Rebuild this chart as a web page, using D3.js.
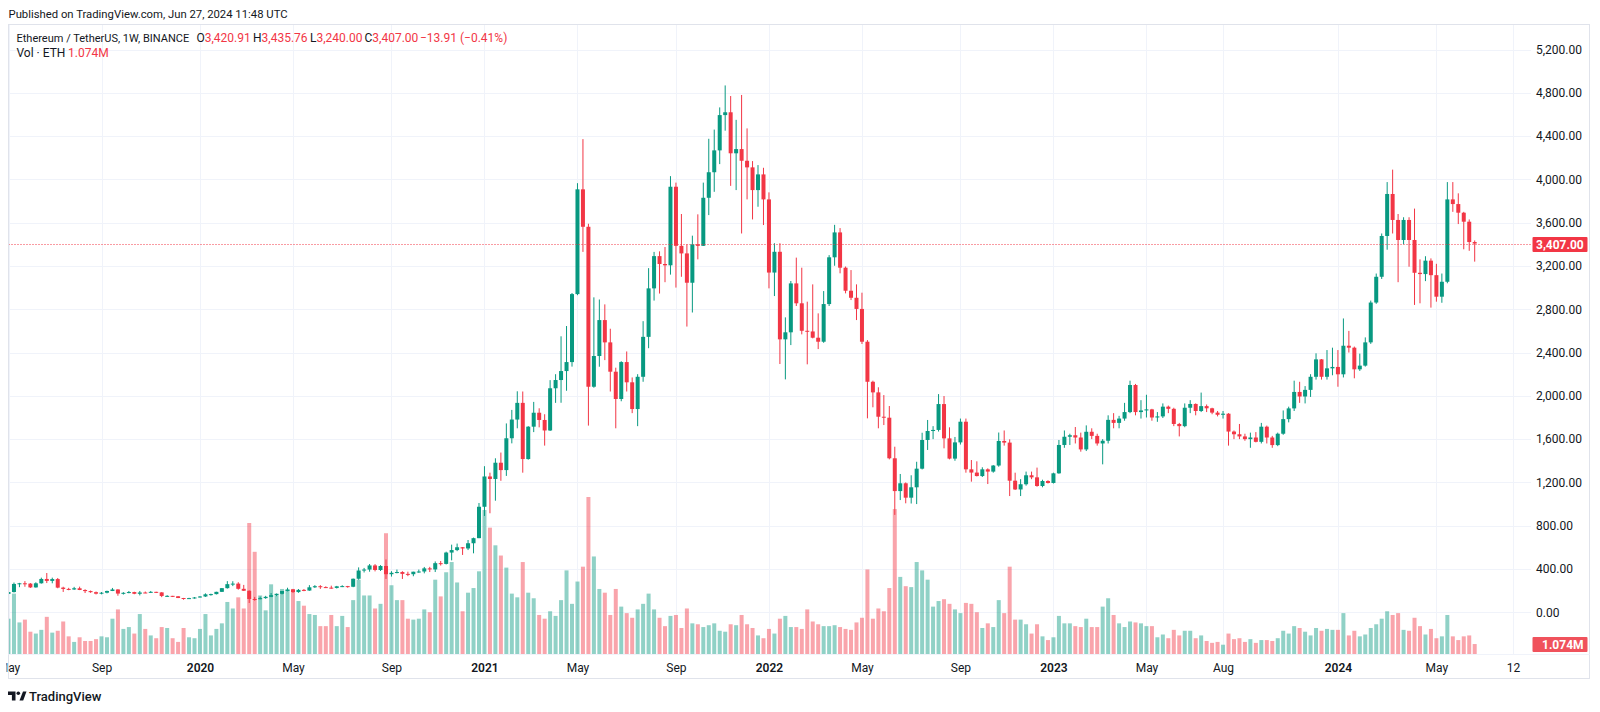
<!DOCTYPE html>
<html><head><meta charset="utf-8">
<script src="https://cdn.jsdelivr.net/npm/d3@7"></script>
<style>html,body{margin:0;padding:0;background:#fff;} svg{display:block;font-family:Roboto,"Noto Sans",sans-serif;}</style>
</head><body>
<svg id="c" width="1600" height="712"></svg>
<script>
// Weekly ETH/USDT candles, first bar = week of 2019-05-06
const opens = [
170,187,262,268,265,230,268,308,290,307,
228,216,211,222,206,196,186,172,181,197,
211,173,180,187,171,183,182,189,184,151,
152,148,132,128,131,137,146,166,168,189,
223,260,265,217,199,123,121,131,143,158,
171,197,211,187,207,201,231,241,233,228,
225,240,242,236,310,386,395,433,391,428,
352,365,372,355,352,375,377,406,396,454,
447,552,575,601,590,638,685,975,1255,1232,
1382,1314,1608,1781,1935,1416,1715,1844,1777,1680,
2070,2146,2229,2312,2940,3908,3562,2084,2368,2700,
2494,2223,1971,2312,2125,1878,2176,2545,2993,3291,
3218,3206,3932,3386,3316,3045,3400,3386,3830,4066,
4268,4594,4620,4241,4280,4172,4111,3901,4046,3815,
3139,3331,2522,2587,3039,2855,2601,2595,2537,2500,
2848,3280,3510,3184,2971,2906,2803,2500,2130,2032,
1807,1798,1423,1120,1192,1059,1155,1327,1592,1675,
1685,1924,1607,1420,1570,1761,1321,1291,1259,1321,
1300,1356,1583,1568,1216,1135,1183,1266,1247,1167,
1213,1195,1284,1546,1622,1636,1615,1505,1668,1630,
1560,1585,1778,1750,1790,1850,2100,1850,1865,1875,
1800,1810,1900,1880,1740,1720,1890,1925,1860,1905,
1885,1845,1825,1835,1670,1645,1625,1600,1615,1575,
1715,1615,1545,1650,1785,1884,2036,1994,2055,2176,
2337,2176,2254,2267,2199,2463,2445,2245,2279,2494,
2862,3100,3477,3865,3625,3440,3625,3440,3137,3125,
3249,3115,2916,3054,3815,3772,3692,3609,3420.91];
const highs = [
198,275,272,288,270,277,320,363,320,317,
236,226,235,237,213,201,192,187,200,225,
213,186,197,190,197,192,197,190,186,158,
152,150,133,134,141,150,175,172,190,224,
288,287,278,253,202,142,145,152,178,174,
197,227,216,215,215,251,251,251,240,246,
244,250,244,312,415,410,446,445,436,488,
380,395,380,375,375,395,419,420,470,474,
560,625,635,603,668,690,1010,1350,1290,1423,
1476,1745,1870,2042,2040,1720,1944,1885,1830,2145,
2200,2550,2645,2950,3965,4372,3590,2910,2890,2845,
2620,2260,2320,2410,2170,2200,2690,3180,3330,3335,
3375,4030,3970,3680,3400,3480,3677,3970,4375,4460,
4665,4868,4770,4550,4780,4471,4169,4132,4107,3880,
3410,3410,2725,3061,3277,3184,2870,3030,2762,2968,
3300,3580,3550,3195,3162,3030,2953,2515,2140,2079,
2007,1906,1530,1278,1200,1266,1391,1659,1777,1720,
2016,1998,1709,1620,1790,1790,1407,1395,1340,1330,
1360,1661,1680,1598,1290,1230,1300,1300,1337,1225,
1220,1290,1592,1680,1650,1712,1660,1727,1700,1650,
1600,1820,1840,1815,1935,2140,2110,1960,2010,1880,
1850,1930,1910,1890,1750,1930,1960,1930,2030,1920,
1890,1860,1860,1840,1680,1740,1650,1660,1665,1750,
1725,1630,1660,1865,1900,2140,2130,2090,2200,2393,
2340,2423,2445,2423,2715,2600,2455,2390,2540,2880,
3130,3500,3975,4090,3680,3650,3650,3730,3261,3290,
3270,3220,3130,3975,3975,3871,3700,3630,3435.76];
const lows = [
163,183,232,236,225,228,265,270,268,222,
188,204,207,205,178,180,165,166,175,196,
153,164,176,167,156,177,180,178,140,142,
141,131,116,124,126,136,142,154,165,188,
219,242,209,197,86,107,120,125,140,149,
165,193,180,180,195,199,225,216,224,218,
220,233,227,232,301,368,375,378,382,308,
330,360,308,334,333,365,360,372,372,432,
442,480,565,530,575,545,685,890,915,1031,
1215,1260,1561,1700,1290,1410,1665,1709,1540,1675,
1935,1936,2047,2270,2930,3330,1725,2075,2269,2330,
2040,1700,1950,2040,1840,1720,2130,2440,2880,2945,
3050,3120,3000,3100,2640,2770,3261,3385,3670,3885,
4141,4450,3940,3901,3500,3815,3630,3747,3578,2993,
2922,2294,2152,2469,2830,2568,2291,2531,2432,2490,
2830,3202,3132,2947,2885,2700,2479,1792,1894,1700,
1730,1413,900,1037,1007,1005,1000,1320,1500,1600,
1670,1515,1413,1400,1550,1290,1207,1255,1250,1185,
1290,1345,1540,1074,1130,1074,1170,1230,1160,1155,
1190,1190,1280,1520,1546,1560,1484,1490,1600,1540,
1367,1560,1700,1700,1770,1840,1820,1790,1800,1770,
1760,1795,1840,1720,1625,1710,1840,1820,1850,1850,
1830,1810,1790,1540,1600,1600,1585,1520,1570,1560,
1560,1520,1535,1640,1755,1860,1935,1930,1990,2150,
2150,2150,2190,2084,2170,2400,2162,2230,2270,2480,
2850,3080,3350,3500,3050,3400,3193,2840,2855,3060,
2815,2870,2860,3040,3700,3587,3354,3340,3240];
const closes = [
187,262,268,265,230,268,308,290,307,228,
216,211,222,206,196,186,172,181,197,211,
173,180,187,171,183,182,189,184,151,152,
148,132,128,131,137,146,166,168,189,223,
260,265,217,199,123,121,131,143,158,171,
197,211,187,207,201,231,241,233,228,225,
240,242,236,310,386,395,433,391,428,352,
365,372,355,352,375,377,406,396,454,447,
552,575,601,590,638,685,975,1255,1232,1382,
1314,1608,1781,1935,1416,1715,1844,1777,1680,2070,
2146,2229,2312,2940,3908,3562,2084,2368,2700,2494,
2223,1971,2312,2125,1878,2176,2545,2993,3291,3218,
3206,3932,3386,3316,3045,3400,3386,3830,4066,4268,
4594,4620,4241,4280,4172,4111,3901,4046,3815,3139,
3331,2522,2587,3039,2855,2601,2595,2537,2500,2848,
3280,3510,3184,2971,2906,2803,2500,2130,2032,1807,
1798,1423,1120,1192,1059,1155,1327,1592,1675,1685,
1924,1607,1420,1570,1761,1321,1291,1259,1321,1300,
1356,1583,1568,1216,1135,1183,1266,1247,1167,1213,
1195,1284,1546,1622,1636,1615,1505,1668,1630,1560,
1585,1778,1750,1790,1850,2100,1850,1865,1875,1800,
1810,1900,1880,1740,1720,1890,1925,1860,1905,1885,
1845,1825,1835,1670,1645,1625,1600,1615,1575,1715,
1615,1545,1650,1785,1884,2036,1994,2055,2176,2337,
2176,2254,2267,2199,2463,2445,2245,2279,2494,2862,
3100,3477,3865,3625,3440,3625,3440,3137,3125,3249,
3115,2916,3054,3815,3772,3692,3609,3420.91,3407];
// weekly volume, millions of ETH
const volumes = [
3.8,6.5,3.4,3.7,2.4,2.2,2.6,4.0,2.3,2.5,
3.5,1.9,1.3,1.8,1.4,1.4,1.6,1.9,1.8,3.8,
4.8,2.7,2.9,2.2,4.3,2.7,2.0,1.7,2.9,2.8,
1.7,1.3,2.8,1.8,1.7,2.7,4.3,2.0,2.7,3.3,
5.6,4.9,6.1,4.9,14.1,11.0,6.3,4.7,7.5,6.3,
7.0,6.9,7.0,5.7,5.2,4.3,4.2,3.0,3.0,4.2,
3.0,4.1,2.9,5.8,8.0,6.3,6.3,4.9,5.4,13.0,
7.4,5.8,5.8,3.8,3.7,3.8,4.8,4.5,8.0,6.2,
8.8,9.9,7.7,4.6,6.6,7.1,8.9,15.5,13.6,11.7,
10.6,9.3,6.5,6.1,9.9,6.6,6.0,4.2,3.8,4.6,
4.1,5.8,9.0,5.4,7.8,9.4,16.9,10.5,7.0,6.6,
4.2,7.0,5.1,4.4,3.9,4.8,5.4,6.5,4.8,3.9,
3.0,4.1,4.2,2.8,4.9,3.3,3.2,2.9,3.1,3.3,
2.5,2.4,3.2,3.1,4.2,3.2,2.8,2.0,1.7,2.7,
2.2,3.8,4.1,2.9,2.9,2.7,4.8,3.5,3.2,3.0,
3.0,3.1,2.9,2.7,2.6,3.4,3.9,9.1,3.8,4.9,
4.6,7.1,15.6,8.3,7.3,7.2,9.9,9.0,8.0,5.1,
5.7,5.9,5.4,4.8,4.4,5.5,5.4,4.5,2.8,3.3,
2.9,5.8,4.4,9.4,3.7,3.7,3.2,2.2,3.2,1.9,
1.5,1.8,4.1,3.3,3.3,3.0,2.9,3.8,2.9,2.9,
5.1,6.0,4.2,3.3,2.9,3.5,3.4,3.3,3.0,3.0,
1.8,2.1,1.7,2.6,2.0,2.5,2.5,1.7,2.0,1.4,
1.2,1.3,1.0,2.2,1.6,1.7,1.3,1.6,1.2,1.5,
1.5,1.4,1.7,2.5,2.2,3.0,2.8,2.4,2.0,2.8,
2.5,2.7,2.6,2.6,4.4,2.0,2.5,1.9,2.1,2.8,
3.2,3.8,4.6,4.2,4.4,2.6,2.5,3.9,3.0,2.1,
2.7,1.7,1.9,4.2,1.9,1.5,1.9,2.0,1.074];

const priceTicks = [0,400,800,1200,1600,2000,2400,2800,3200,3600,4000,4400,4800,5200];
const timeTickDates = ["2019-05-06","2019-09-02","2020-01-06","2020-05-04","2020-09-07","2021-01-04","2021-05-03","2021-09-06","2022-01-03","2022-05-02","2022-09-05","2023-01-02","2023-05-01","2023-08-07","2024-01-01","2024-05-06","2024-08-12"];
const timeTickLabels = ["May","Sep","2020","May","Sep","2021","May","Sep","2022","May","Sep","2023","May","Aug","2024","May","12"];

const UP = "#089981", DOWN = "#F23645", TXT = "#131722", GRID = "#f0f3fa";
const svg = d3.select("#c");
const paneL = 8.5, paneR = 1531, paneT = 24.5, paneB = 654, frameR = 1589.5, frameB = 678.5;

const dates = opens.map((_, i) => new Date(Date.UTC(2019, 4, 6 + 7 * i)));
const bars = opens.map((o, i) => ({date: dates[i], o, h: highs[i], l: lows[i], c: closes[i], v: volumes[i]}));

const x = d3.scaleUtc().domain([dates[0], dates[dates.length - 1]]).range([8.5, 1474.7]);
const y = d3.scaleLinear().domain([0, 5200]).range([612.3, 49.5]);
const vy = d3.scaleLinear().domain([0, 16.9]).range([paneB, 497]);
const tickDates = timeTickDates.map(s => new Date(s + "T00:00:00Z"));

svg.append("rect").attr("width", 1600).attr("height", 712).attr("fill", "#fff");

const defs = svg.append("defs");
defs.append("clipPath").attr("id", "pane").append("rect")
  .attr("x", paneL).attr("y", paneT).attr("width", paneR - paneL).attr("height", paneB - paneT);
defs.append("clipPath").attr("id", "taxis").append("rect")
  .attr("x", paneL - 2).attr("y", paneB).attr("width", frameR - paneL).attr("height", frameB - paneB);

// grid
const grid = svg.append("g").attr("clip-path", "url(#pane)");
grid.selectAll("line.h").data(priceTicks).join("line").attr("class", "h")
  .attr("x1", paneL).attr("x2", paneR)
  .attr("y1", d => Math.round(y(d)) + 0.5).attr("y2", d => Math.round(y(d)) + 0.5)
  .attr("stroke", GRID).attr("stroke-width", 1);
grid.selectAll("line.v").data(tickDates).join("line").attr("class", "v")
  .attr("y1", paneT).attr("y2", paneB)
  .attr("x1", d => Math.round(x(d)) + 0.5).attr("x2", d => Math.round(x(d)) + 0.5)
  .attr("stroke", GRID).attr("stroke-width", 1);

const plot = svg.append("g").attr("clip-path", "url(#pane)");
const bw = 4;
// volume
plot.append("g").selectAll("rect").data(bars).join("rect")
  .attr("x", d => x(d.date) - bw / 2).attr("width", bw)
  .attr("y", d => vy(d.v)).attr("height", d => paneB - vy(d.v))
  .attr("fill", d => d.c >= d.o ? UP : DOWN).attr("fill-opacity", 0.45);
// wicks
plot.append("g").selectAll("line").data(bars).join("line")
  .attr("x1", d => x(d.date)).attr("x2", d => x(d.date))
  .attr("y1", d => y(d.h)).attr("y2", d => y(d.l))
  .attr("stroke", d => d.c >= d.o ? UP : DOWN).attr("stroke-width", 1);
// bodies
plot.append("g").selectAll("rect").data(bars).join("rect")
  .attr("x", d => x(d.date) - bw / 2).attr("width", bw)
  .attr("y", d => y(Math.max(d.o, d.c)))
  .attr("height", d => Math.max(1, Math.abs(y(d.o) - y(d.c))))
  .attr("fill", d => d.c >= d.o ? UP : DOWN);

// last price line
const last = bars[bars.length - 1];
const ly = Math.round(y(last.c)) + 0.5;
svg.append("line").attr("x1", paneL).attr("x2", paneR).attr("y1", ly).attr("y2", ly)
  .attr("stroke", DOWN).attr("stroke-width", 1).attr("stroke-dasharray", "1,2");

// frame
svg.append("rect").attr("x", paneL).attr("y", paneT).attr("width", frameR - paneL).attr("height", frameB - paneT)
  .attr("fill", "none").attr("stroke", "#e0e3eb").attr("stroke-width", 1);
svg.append("line").attr("x1", paneL).attr("x2", frameR).attr("y1", paneB + 0.5).attr("y2", paneB + 0.5)
  .attr("stroke", "#f0f3fa");

// price axis
const pa = svg.append("g").attr("transform", `translate(${paneR},0)`)
  .call(d3.axisRight(y).tickValues(priceTicks).tickFormat(d3.format(",.2f")).tickSize(0).tickPadding(5));
pa.select(".domain").remove();
pa.selectAll("text").attr("fill", TXT).attr("font-size", 12).attr("font-family", "Roboto, sans-serif");

// time axis (clip on an untransformed parent)
const taWrap = svg.append("g").attr("clip-path", "url(#taxis)");
const ta = taWrap.append("g").attr("transform", `translate(0,${paneB})`)
  .call(d3.axisBottom(x).tickValues(tickDates).tickFormat((d, i) => timeTickLabels[i]).tickSize(0).tickPadding(9));
ta.select(".domain").remove();
ta.selectAll("text").attr("fill", TXT).attr("font-size", 12).attr("font-family", "Roboto, sans-serif")
  .attr("font-weight", (d, i) => /^\d{4}$/.test(timeTickLabels[i]) ? 600 : 400);

// price label
svg.append("rect").attr("x", paneR + 1.5).attr("y", ly - 7.5).attr("width", 55).attr("height", 15).attr("rx", 1).attr("fill", DOWN);
svg.append("text").attr("x", paneR + 5).attr("y", ly + 4.3).attr("fill", "#fff").attr("font-size", 12).attr("font-weight", 700)
  .text(d3.format(",.2f")(last.c));
// volume label
const vly = vy(last.v);
svg.append("rect").attr("x", paneR + 1.5).attr("y", vly - 7).attr("width", 55).attr("height", 15).attr("rx", 1).attr("fill", "#f0525c");
svg.append("text").attr("x", paneR + 11).attr("y", vly + 4.8).attr("fill", "#fff").attr("font-size", 12).attr("font-weight", 700)
  .text(d3.format(".3f")(last.v) + "M");

// header
svg.append("text").attr("x", 8.5).attr("y", 18).attr("fill", TXT).attr("font-size", 11.3)
  .text("Published on TradingView.com, Jun 27, 2024 11:48 UTC");

const fmt = d3.format(",.2f");
const leg = svg.append("g").attr("font-size", 12);
const l1 = 42;
leg.append("text").attr("x", 16.5).attr("y", l1).attr("fill", TXT).attr("font-size", 11)
  .text("Ethereum / TetherUS, 1W, BINANCE");
const parts = [["O", last.o, 196.5], ["H", last.h, 253], ["L", last.l, 310], ["C", last.c, 364.5]];
parts.forEach(([k, v, px]) => {
  const t = leg.append("text").attr("x", px).attr("y", l1);
  t.append("tspan").attr("fill", TXT).text(k);
  t.append("tspan").attr("fill", DOWN).text(fmt(v));
});
const chg = last.c - last.o;
leg.append("text").attr("x", 420).attr("y", l1).attr("fill", DOWN)
  .text(d3.format(".2f")(chg).replace("-", "\u2212") + " (" + d3.format(".2f")(chg / last.o * 100).replace("-", "\u2212") + "%)");
leg.append("text").attr("x", 16.5).attr("y", 57).attr("fill", TXT).text("Vol \u00b7 ETH");
leg.append("text").attr("x", 68).attr("y", 57).attr("fill", DOWN).text(d3.format(".3f")(last.v) + "M");

// footer logo
const logo = svg.append("g").attr("fill", TXT);
logo.append("path").attr("d", "M8,691.5 h7.5 v9 h-3.6 v-5.6 h-3.9 Z");
logo.append("circle").attr("cx", 18.3).attr("cy", 693.3).attr("r", 1.8);
logo.append("path").attr("d", "M19.5,700.5 L23,691.5 L26.5,691.5 L23.2,700.5 Z");
svg.append("text").attr("x", 29).attr("y", 701).attr("fill", TXT).attr("font-size", 13).attr("font-weight", 500).text("TradingView");
</script>
</body></html>
